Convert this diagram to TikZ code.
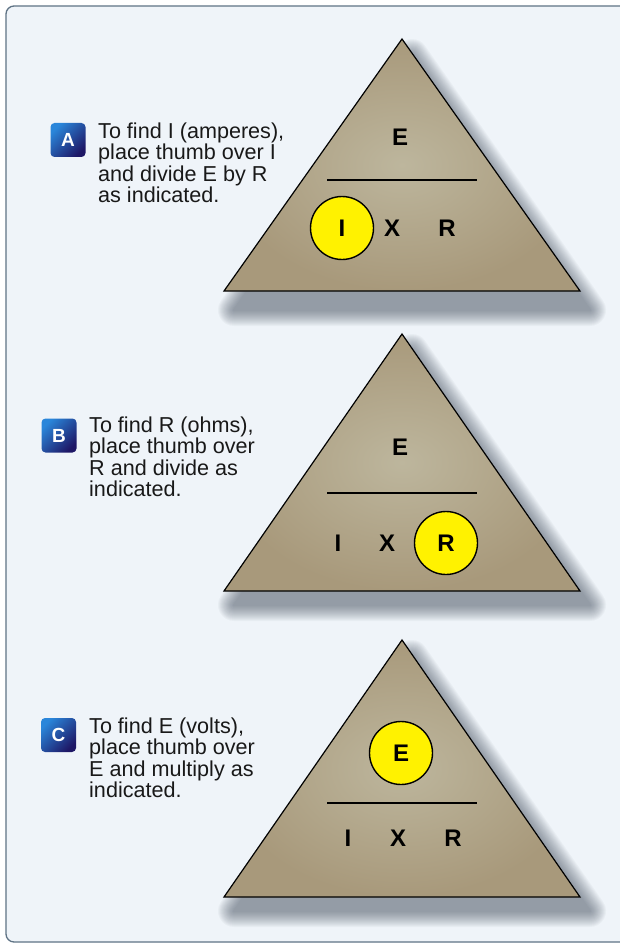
\documentclass[tikz,border=0pt]{standalone}
\usepackage{fontspec}
\setmainfont{Liberation Sans}
\definecolor{bg}{HTML}{EFF4F9}
\definecolor{framec}{HTML}{5F7385}
\definecolor{trilight}{HTML}{BDB69D}
\definecolor{tridark}{HTML}{A8997B}
\definecolor{badgelight}{HTML}{2A86DA}
\definecolor{badgedark}{HTML}{1E1766}
\definecolor{thumb}{HTML}{FFF200}
\definecolor{shadowc}{HTML}{3A4656}
\newcommand\descfont[1]{\fontsize{21.6}{#1}\selectfont\lineskiplimit -30pt\relax}
\begin{document}
\begin{tikzpicture}[x=1pt,y=-1pt,
  tri/.style={draw=black, line width=1.2pt, inner color=trilight, outer color=tridark},
  shadowlayer/.style={shadowc, line join=round},
  bar/.style={line width=1.8pt, black},
  badge/.style={minimum width=35pt, minimum height=34pt, rounded corners=4pt, inner sep=0pt,
    top color=badgelight, bottom color=badgedark, shading angle=45, text=white,
    font=\bfseries\fontsize{19}{19}\selectfont},
  desc/.style={anchor=north west, align=left, inner sep=0pt, text=black!90,
    font=\descfont{21.1}},
  letter/.style={inner sep=0pt, font=\bfseries\fontsize{24}{24}\selectfont},
  thumbc/.style={circle, draw=black, line width=1.4pt, fill=thumb, minimum size=63pt, inner sep=0pt,
    font=\bfseries\fontsize{24}{24}\selectfont}
]
\useasboundingbox (0,0) rectangle (620,944);
\fill[white] (0,0) rectangle (620,944);
\draw[framec, fill=bg, line width=1.3pt, rounded corners=8pt] (6,6) rectangle (650,942);

% soft shadows under the three triangles
\foreach \ty in {39,334,640}{
  \foreach \k in {1,...,16}{
    \begin{scope}[transparency group, opacity=0.04]
      \filldraw[shadowlayer, line width=2*\k pt]
        (412,\ty+16) -- (590,\ty+16+255) -- (234,\ty+16+255) -- cycle;
    \end{scope}
  }
}

% ---------- A ----------
\coordinate (Atop) at (402,39);
\coordinate (Al) at (224,291);
\coordinate (Ar) at (580,291);
\path[tri] (Atop) -- (Ar) -- (Al) -- cycle;
\coordinate (Ab1) at (327,180);
\coordinate (Ab2) at (477,180);
\draw[bar] (Ab1) -- (Ab2);
\node[letter] (AE) at (400,137) {E};
\node[thumbc] (AI) at (342,228) {I};
\node[letter] (AX) at (392,228) {X};
\node[letter] (AR) at (447,228) {R};
\node[badge] (Abadge) at (68,140) {A};
\node[desc] (Atext) at (98,123) {To find I (amperes),\\place thumb over I\\and divide E by R\\as indicated.};

% ---------- B ----------
\coordinate (Btop) at (402,334);
\coordinate (Bl) at (224,591);
\coordinate (Br) at (580,591);
\path[tri] (Btop) -- (Br) -- (Bl) -- cycle;
\coordinate (Bb1) at (327,493);
\coordinate (Bb2) at (477,493);
\draw[bar] (Bb1) -- (Bb2);
\node[letter] (BE) at (400,447) {E};
\node[letter] (BI) at (338,543) {I};
\node[letter] (BX) at (387,543) {X};
\node[thumbc] (BR) at (446,543) {R};
\node[badge] (Bbadge) at (59,435.5) {B};
\node[desc] (Btext) at (89,417) {To find R (ohms),\\place thumb over\\R and divide as\\indicated.};

% ---------- C ----------
\coordinate (Ctop) at (402,640);
\coordinate (Cl) at (224,897);
\coordinate (Cr) at (580,897);
\path[tri] (Ctop) -- (Cr) -- (Cl) -- cycle;
\coordinate (Cb1) at (327,803);
\coordinate (Cb2) at (477,803);
\draw[bar] (Cb1) -- (Cb2);
\node[thumbc] (CE) at (401,753) {E};
\node[letter] (CI) at (348,838) {I};
\node[letter] (CX) at (398,838) {X};
\node[letter] (CR) at (453,838) {R};
\node[badge] (Cbadge) at (58.5,735) {C};
\node[desc] (Ctext) at (89,718) {To find E (volts),\\place thumb over\\E and multiply as\\indicated.};
\end{tikzpicture}
\end{document}
